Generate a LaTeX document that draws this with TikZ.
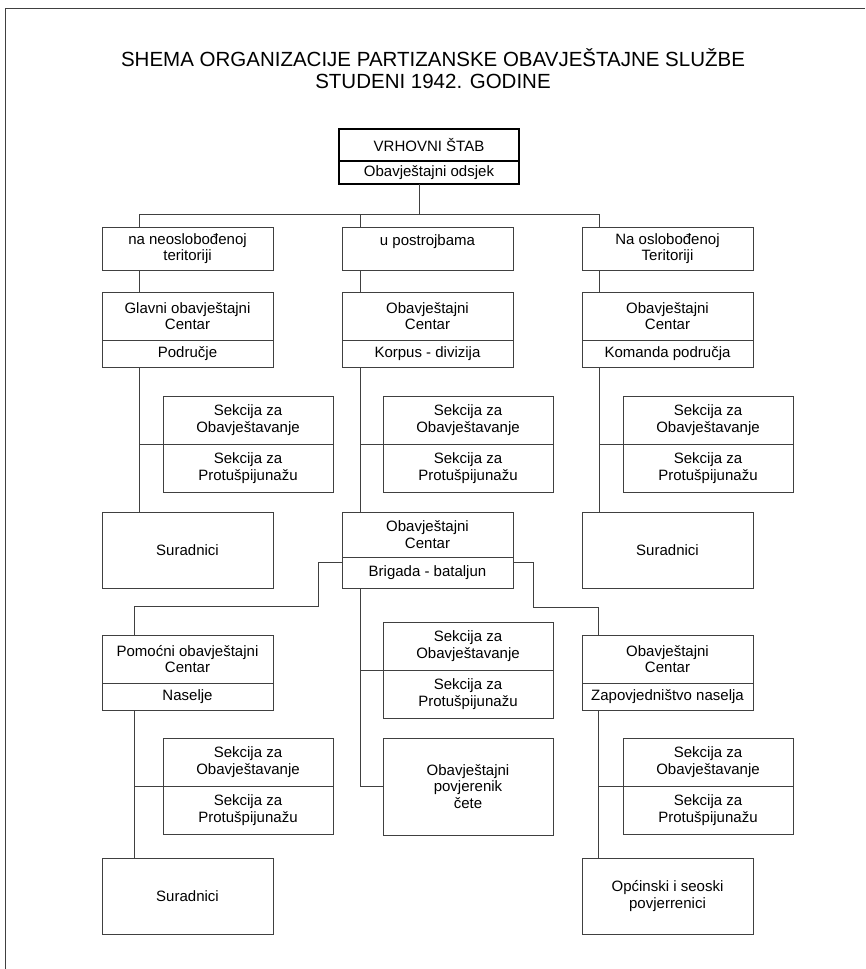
\documentclass[tikz,border=0pt]{standalone}
\usepackage{fontspec}
\setmainfont{Liberation Sans}
\usetikzlibrary{positioning}

\begin{document}
\begin{tikzpicture}[x=1pt, y=-1pt,
    box/.style={rectangle, draw=black!75, line width=0.9pt, minimum width=171pt, align=center, inner sep=0pt, outer sep=0pt, font=\fontsize{15}{16.5}\selectfont},
    sekcija/.style={box, minimum width=170pt, minimum height=48pt},
    stabbox/.style={box, draw=black, line width=2.2pt, minimum width=180pt},
    link/.style={draw=black!75, line width=0.9pt},
    naslov/.style={align=center, font=\fontsize{20.5}{22}\selectfont}
]
\useasboundingbox (0,0) rectangle (865,969);
\draw[link] (865,8) -| (5,969);

% Title
\node[naslov] (title) at (433,69) {SHEMA ORGANIZACIJE PARTIZANSKE OBAVJEŠTAJNE SLUŽBE\\STUDENI 1942. GODINE};

% Vrhovni stab
\node[stabbox, minimum height=32pt] (stab) at (429,145) {VRHOVNI ŠTAB};
\node[stabbox, minimum height=23pt, below=0pt of stab] (odsjek) {Obavještajni odsjek};

% Row 1
\node[box, minimum height=43pt] (neosl) at (187.5,248.5) {na neoslobođenoj\\teritoriji};
\node[box, minimum height=43pt] (postr) at (427.5,248.5) {u postrojbama\\\mbox{}};
\node[box, minimum height=43pt] (osl) at (667.5,248.5) {Na oslobođenoj\\Teritoriji};

% Row 2 - centri
\node[box, minimum height=48pt] (glavni) at (187.5,316) {Glavni obavještajni\\Centar};
\node[box, minimum height=27pt, below=0pt of glavni] (glavniA) {Područje};
\node[box, minimum height=48pt] (korpus) at (427.5,316) {Obavještajni\\Centar};
\node[box, minimum height=27pt, below=0pt of korpus] (korpusA) {Korpus - divizija};
\node[box, minimum height=48pt] (komanda) at (667.5,316) {Obavještajni\\Centar};
\node[box, minimum height=27pt, below=0pt of komanda] (komandaA) {Komanda područja};

% Row 3 - sekcije
\node[sekcija] (sekL) at (248,420) {Sekcija za\\Obavještavanje};
\node[sekcija, below=0pt of sekL] (sekLb) {Sekcija za\\Protušpijunažu};
\node[sekcija] (sekM) at (468,420) {Sekcija za\\Obavještavanje};
\node[sekcija, below=0pt of sekM] (sekMb) {Sekcija za\\Protušpijunažu};
\node[sekcija] (sekR) at (708,420) {Sekcija za\\Obavještavanje};
\node[sekcija, below=0pt of sekR] (sekRb) {Sekcija za\\Protušpijunažu};

% Row 4
\node[box, minimum height=76pt] (surL) at (187.5,550) {Suradnici};
\node[box, minimum height=45pt] (brig) at (427.5,534.5) {Obavještajni\\Centar};
\node[box, minimum height=31pt, below=0pt of brig] (brigA) {Brigada - bataljun};
\node[box, minimum height=76pt] (surR) at (667.5,550) {Suradnici};

% Row 5
\node[box, minimum height=48pt] (pomoc) at (187.5,659) {Pomoćni obavještajni\\Centar};
\node[box, minimum height=27pt, below=0pt of pomoc] (pomocA) {Naselje};
\node[sekcija] (sekB) at (468,646) {Sekcija za\\Obavještavanje};
\node[sekcija, below=0pt of sekB] (sekBb) {Sekcija za\\Protušpijunažu};
\node[box, minimum height=48pt] (zapov) at (667.5,659) {Obavještajni\\Centar};
\node[box, minimum height=27pt, below=0pt of zapov] (zapovA) {Zapovjedništvo naselja};

% Row 6
\node[sekcija] (sekN) at (248,762) {Sekcija za\\Obavještavanje};
\node[sekcija, below=0pt of sekN] (sekNb) {Sekcija za\\Protušpijunažu};
\node[box, minimum width=170pt, minimum height=97pt] (povj) at (468,786.5) {Obavještajni\\povjerenik\\čete};
\node[sekcija] (sekZ) at (708,762) {Sekcija za\\Obavještavanje};
\node[sekcija, below=0pt of sekZ] (sekZb) {Sekcija za\\Protušpijunažu};

% Row 7
\node[box, minimum height=76pt] (surN) at (187.5,896) {Suradnici};
\node[box, minimum height=76pt] (opc) at (667.5,896) {Općinski i seoski\\povjerrenici};

% Connectors
\coordinate (bus) at (419,214);
\coordinate (kL) at (139,214);
\coordinate (kM) at (360,214);
\coordinate (kR) at (599,214);
\coordinate (bL) at (318,606);
\coordinate (bR) at (533,607);
\coordinate (pL) at (134,606);
\coordinate (pR) at (598,607);

\draw[link] (odsjek.south -| bus) -- (bus);
\draw[link] (kL) -- (kR);
\draw[link] (kL) -- (neosl.north -| kL);
\draw[link] (kM) -- (postr.north -| kM);
\draw[link] (kR) -- (osl.north -| kR);

\draw[link] (neosl.south -| kL) -- (glavni.north -| kL);
\draw[link] (postr.south -| kM) -- (korpus.north -| kM);
\draw[link] (osl.south -| kR) -- (komanda.north -| kR);

\draw[link] (glavniA.south -| kL) -- (surL.north -| kL);
\draw[link] (sekL.south -| kL) -- (sekL.south west);
\draw[link] (korpusA.south -| kM) -- (brig.north -| kM);
\draw[link] (sekM.south -| kM) -- (sekM.south west);
\draw[link] (komandaA.south -| kR) -- (surR.north -| kR);
\draw[link] (sekR.south -| kR) -- (sekR.south west);

\draw[link] ([yshift=-5pt]brigA.north west) -| (bL) -| (pomoc.north -| pL);
\draw[link] ([yshift=-5pt]brigA.north east) -| (bR) -| (zapov.north -| pR);
\draw[link] (brigA.south -| kM) |- (povj.west);
\draw[link] (sekB.south -| kM) -- (sekB.south west);

\draw[link] (pomocA.south -| pL) -- (surN.north -| pL);
\draw[link] (sekN.south -| pL) -- (sekN.south west);
\draw[link] (zapovA.south -| pR) -- (opc.north -| pR);
\draw[link] (sekZ.south -| pR) -- (sekZ.south west);

\end{tikzpicture}
\end{document}
